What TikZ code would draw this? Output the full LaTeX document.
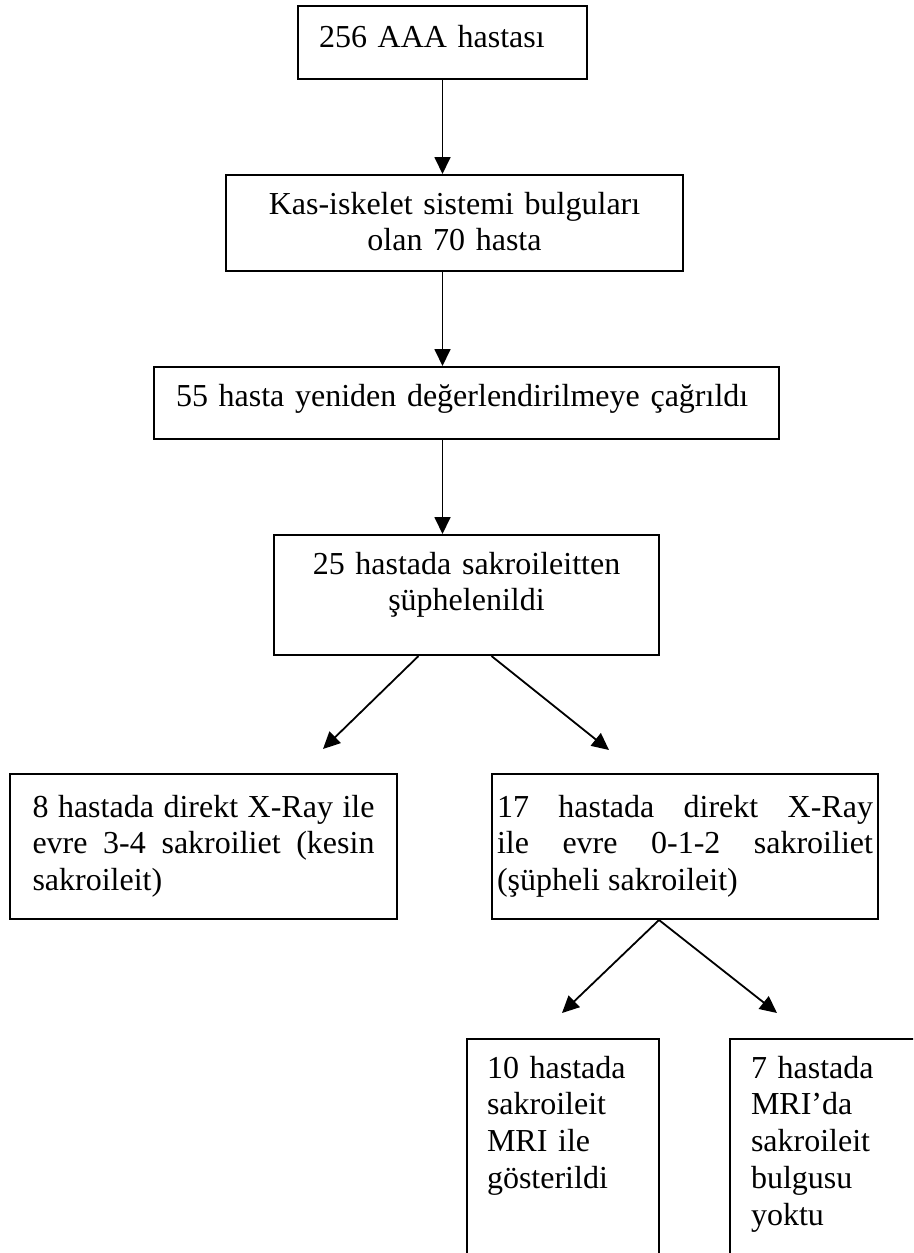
\documentclass[tikz,border=0pt]{standalone}
\usepackage{fontspec}
\setmainfont{Liberation Serif}
\usetikzlibrary{arrows.meta}
\tikzset{
  box/.style={draw,rectangle,line width=2pt,anchor=north west,inner ysep=0pt,
    font=\fontsize{32pt}{36.8pt}\selectfont},
  arr/.style={line width=1.8pt,-{Triangle[length=17pt,width=16pt]}}
}
\begin{document}
\begin{tikzpicture}[x=1pt,y=-1pt]
    \useasboundingbox (0,0) rectangle (913,1253);
    \clip (0,0) rectangle (913,1253);

    \node at (297,5) [box,inner xsep=21pt,text width=247pt,align=left,text height=41pt,text depth=32pt] (start) {256 AAA hastası};
    \node at (225,174) [box,inner xsep=20pt,text width=417pt,align=center,text height=39pt,text depth=57pt] (musc) {Kas-iskelet sistemi bulguları\\ olan 70 hasta};
    \node at (153,366) [box,inner xsep=22pt,text width=581pt,align=left,text height=39pt,text depth=33pt] (recall) {55 hasta yeniden değerlendirilmeye çağrıldı};
    \node at (273,534) [box,inner xsep=20pt,text width=345pt,align=center,text height=39pt,text depth=81pt] (suspect) {25 hastada sakroileitten\\ şüphelenildi};

    \node at (9,773) [box,inner xsep=22.5pt,text width=342pt,align=justify,text height=43pt,text depth=102pt] (definite) {8 hastada direkt X-Ray ile\linebreak evre 3-4 sakroiliet (kesin\linebreak sakroileit)};
    \node at (491,773) [box,inner xsep=5pt,text width=376pt,align=justify,text height=43pt,text depth=102pt] (doubtful) {\rightskip=17pt 17 hastada direkt X-Ray\linebreak ile evre 0-1-2 sakroiliet\linebreak (şüpheli sakroileit)};

    \node at (466,1038) [box,inner xsep=20pt,text width=152pt,align=left,text height=39pt,text depth=250pt] (mripos) {10 hastada\\ sakroileit\\ MRI ile\\ gösterildi};
    \node at (729,1038) [box,inner xsep=21pt,text width=150pt,align=left,text height=39pt,text depth=250pt] (mrineg) {7 hastada\\ MRI’da\\ sakroileit\\ bulgusu\\ yoktu};

    \coordinate (tipdef) at (323,749);
    \coordinate (tipdoubt) at (609,750);
    \coordinate (tippos) at (562,1013);
    \coordinate (tipneg) at (777,1013);

    \draw[arr] (start.south) -- (start.south |- musc.north);
    \draw[arr] (start.south |- musc.south) -- (start.south |- recall.north);
    \draw[arr] (start.south |- recall.south) -- (start.south |- suspect.north);
    \draw[arr] ([xshift=-48pt]suspect.south) -- (tipdef);
    \draw[arr] ([xshift=25pt]suspect.south) -- (tipdoubt);
    \draw[arr] ([xshift=-26pt]doubtful.south) -- (tippos);
    \draw[arr] ([xshift=-26pt]doubtful.south) -- (tipneg);
\end{tikzpicture}
\end{document}
